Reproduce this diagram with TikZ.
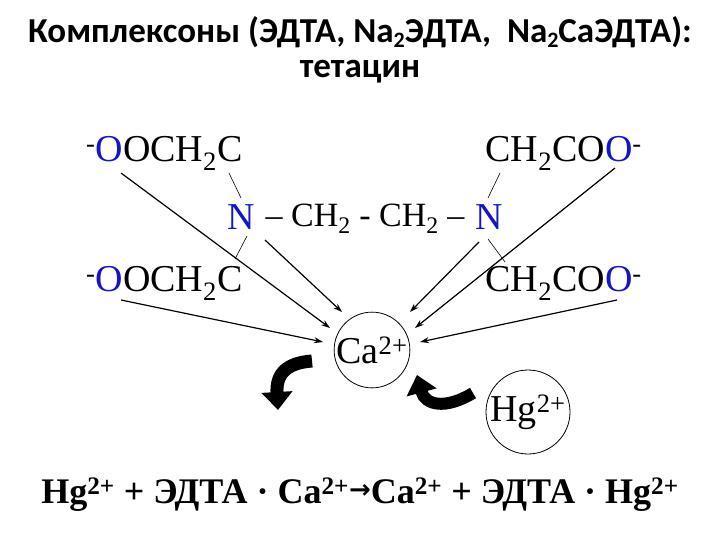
\documentclass[tikz,border=0pt]{standalone}
\usepackage{fontspec}
\setmainfont{Liberation Serif}
\newfontfamily\titlefont{Carlito}
\newfontfamily\arrfont{DejaVu Sans}
\usetikzlibrary{arrows.meta}
\definecolor{nblue}{RGB}{20,20,200}
\tikzset{
 chem/.style={inner sep=0pt,font=\fontsize{38}{42}\selectfont},
 bond/.style={line width=0.6pt},
 coord/.style={line width=1.2pt,-{Stealth[length=9pt,width=6pt]}},
 ion/.style={circle,draw,line width=0.8pt,inner sep=0pt,font=\fontsize{38}{42}\selectfont},
 big/.style={line width=13pt,-{Triangle[length=18pt,width=30pt]}}
}
\newcommand{\lsub}[1]{\raisebox{-0.35ex}{\fontsize{22}{24}\selectfont #1}}
\begin{document}
\begin{tikzpicture}[x=1pt,y=-1pt]
\useasboundingbox (0,0) rectangle (720,540);
\node (t1) at (360,32) {\titlefont\bfseries\fontsize{35}{38}\selectfont Комплексоны (ЭДТА, Na\lsub{2}ЭДТА,\ \ Na\lsub{2}СаЭДТА):};
\node (t2) at (360,72) {\titlefont\bfseries\fontsize{35}{38}\selectfont тетацин};
\node[chem,anchor=west] (ul) at (86,153) {\textsuperscript{-}\textcolor{nblue}{O}OCH\textsubscript{2}C};
\node[chem,anchor=east] (ur) at (642,153) {CH\textsubscript{2}CO\textcolor{nblue}{O}\textsuperscript{-}};
\node[chem] (nl) at (241,217) {\textcolor{nblue}{N}};
\node[chem,font=\fontsize{34}{38}\selectfont] (mid) at (365,219) {– CH\textsubscript{2} - CH\textsubscript{2} –};
\node[chem] (nr) at (489,217) {\textcolor{nblue}{N}};
\node[chem,anchor=west] (ll) at (86,283) {\textsuperscript{-}\textcolor{nblue}{O}OCH\textsubscript{2}C};
\node[chem,anchor=east] (lr) at (642,283) {CH\textsubscript{2}CO\textcolor{nblue}{O}\textsuperscript{-}};
\node[ion,minimum size=70pt] (ca) at (372,350) {Ca\textsuperscript{2+}};
\node[ion,minimum size=84pt] (hg) at (528,412) {Hg\textsuperscript{2+}};
\coordinate (b1a) at (229,173); \coordinate (b1b) at (241,198);
\coordinate (b2a) at (247,236); \coordinate (b2b) at (235,259);
\coordinate (b3a) at (500,173); \coordinate (b3b) at (488,198);
\coordinate (b4a) at (488,239); \coordinate (b4b) at (505,262);
\draw[bond] (b1a)--(b1b); \draw[bond] (b2a)--(b2b);
\draw[bond] (b3a)--(b3b); \draw[bond] (b4a)--(b4b);
\coordinate (s1) at (121,173); \coordinate (e1) at (330,328);
\coordinate (s2) at (265,240); \coordinate (e2) at (342,312);
\coordinate (s3) at (121,300); \coordinate (e3) at (323,342);
\coordinate (s4) at (479,242); \coordinate (e4) at (410,312);
\coordinate (s5) at (615,168); \coordinate (e5) at (415,328);
\coordinate (s6) at (617,300); \coordinate (e6) at (420,342);
\foreach \i in {1,...,6} \draw[coord] (s\i)--(e\i);
\coordinate (a1) at (312,361); \coordinate (a2) at (278,410);
\draw[big] (a1) .. controls (285,363) and (276,375) .. (a2);
\coordinate (c1) at (473,393); \coordinate (c2) at (417,375);
\draw[big,line width=12pt] (c1) .. controls (445,410) and (425,405) .. (c2);
\node[font=\bfseries\fontsize{36}{40}\selectfont] (eq) at (360,495) {Hg\textsuperscript{2+} + ЭДТА · Ca\textsuperscript{2+}\raisebox{0.3ex}{\arrfont\bfseries\fontsize{26}{30}\selectfont →}Ca\textsuperscript{2+} + ЭДТА · Hg\textsuperscript{2+}};
\end{tikzpicture}
\end{document}
